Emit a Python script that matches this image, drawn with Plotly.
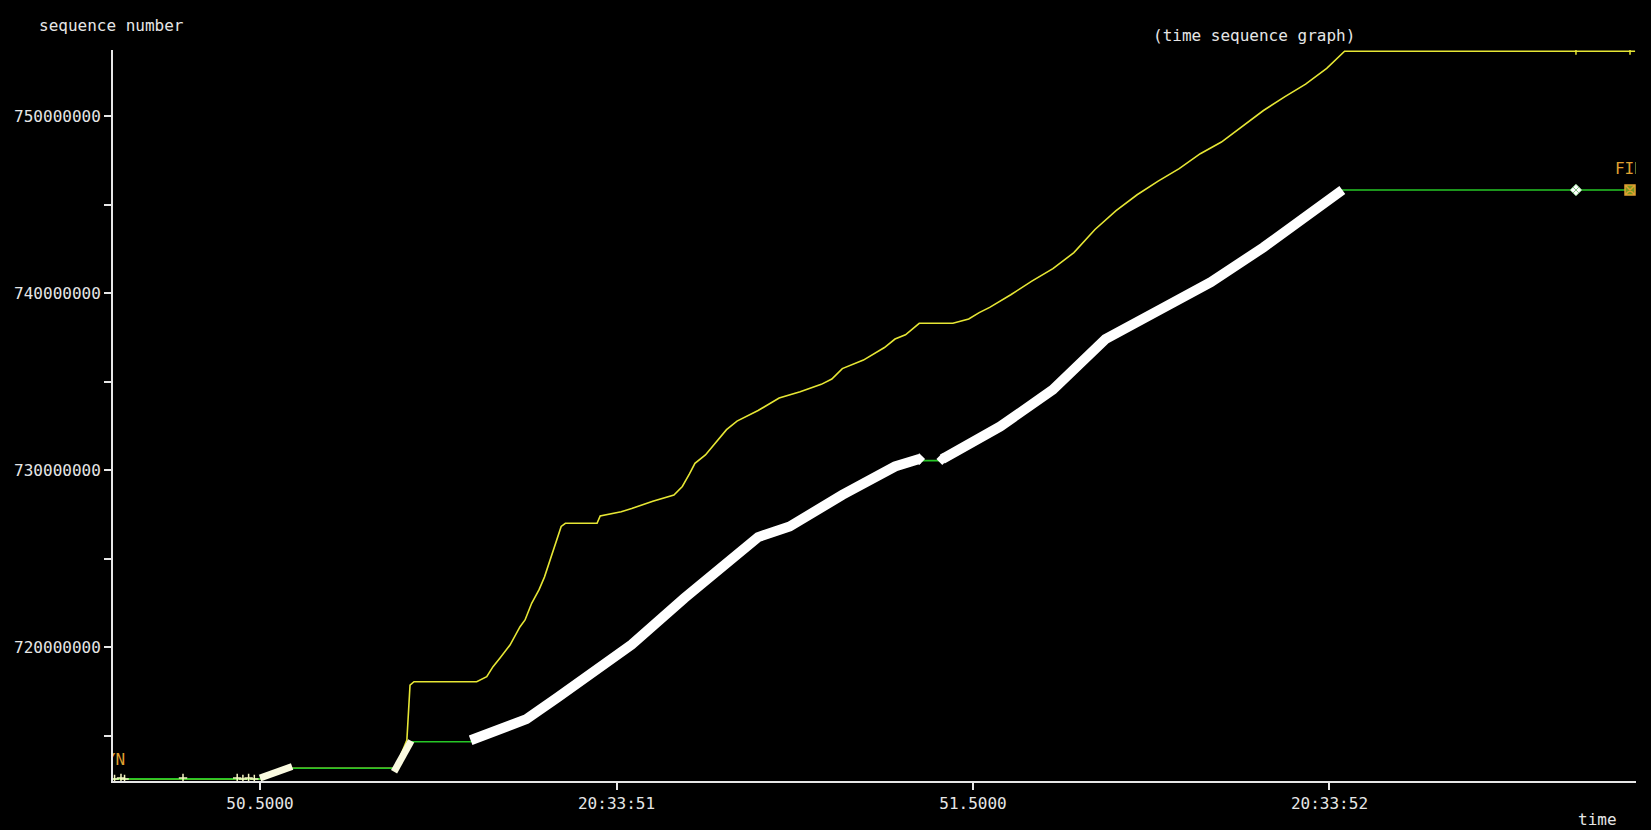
import numpy as np
import plotly.graph_objects as go

# Time is seconds past 20:33:00, sequence numbers are in millions.
SCALE = 1e6

# Advertised receive window (upper edge), yellow line
win_t = [50.2938, 50.500, 50.545, 50.690, 50.706, 50.7104, 50.716, 50.8039, 50.818,
         50.8268, 50.8366, 50.8506, 50.8647, 50.8717, 50.881, 50.8914, 50.8989,
         50.9077, 50.915, 50.9224, 50.9283, 50.9727, 50.9771, 51.0066, 51.0213,
         51.0509, 51.0805, 51.0923, 51.1025, 51.110, 51.1247, 51.1395, 51.1543,
         51.169, 51.1986, 51.2281, 51.2576, 51.2872, 51.302, 51.3167, 51.3463,
         51.3758, 51.3906, 51.4053, 51.4246, 51.4718, 51.494, 51.5087, 51.5234,
         51.553, 51.5825, 51.6121, 51.6415, 51.6711, 51.7007, 51.7302, 51.7597,
         51.7892, 51.8188, 51.8484, 51.8778, 51.9074, 51.937, 51.9665, 51.9961,
         52.0212, 52.4286]
win_seq = [712.55, 712.55, 713.15, 713.15, 714.75, 717.85, 718.04, 718.04, 718.32,
           718.89, 719.38, 720.11, 721.15, 721.53, 722.47, 723.24, 723.95,
           725.03, 725.92, 726.81, 726.99, 726.99, 727.41, 727.64, 727.82,
           728.24, 728.59, 729.07, 729.79, 730.38, 730.85, 731.57, 732.28,
           732.76, 733.36, 734.07, 734.42, 734.84, 735.14, 735.73, 736.21,
           736.92, 737.40, 737.64, 738.29, 738.29, 738.53, 738.89, 739.19,
           739.90, 740.67, 741.38, 742.28, 743.59, 744.66, 745.55, 746.32,
           747.03, 747.87, 748.53, 749.42, 750.31, 751.08, 751.80, 752.69,
           753.66, 753.66]

# Cumulative ACK line, green
ack_t = [50.2938, 50.500, 50.545, 50.690, 50.712, 50.7954, 50.8737, 50.918, 50.9623,
         51.0213, 51.0952, 51.169, 51.1986, 51.2429, 51.3167, 51.3906, 51.4246,
         51.4569, 51.5383, 51.6121, 51.6858, 51.7597, 51.8335, 51.9074, 51.9812,
         52.018, 52.4286]
ack_seq = [712.55, 712.55, 713.15, 713.15, 714.65, 714.65, 715.93, 717.17, 718.48,
           720.14, 722.76, 725.31, 726.21, 726.81, 728.59, 730.20, 730.53,
           730.53, 732.46, 734.54, 737.40, 739.00, 740.61, 742.58, 744.66,
           745.82, 745.82]

# Data segments sent in the main transfer (dense white band)
seg_t = [50.7954, 50.8737, 50.918, 50.9623, 51.0213, 51.0952, 51.169, 51.1986,
         51.2429, 51.3167, 51.3906, 51.4246, None, 51.4569, 51.5383, 51.6121,
         51.6858, 51.7597, 51.8335, 51.9074, 51.9812, 52.018]
seg_seq = [714.73, 715.93, 717.17, 718.48, 720.14, 722.76, 725.31, 726.21,
           726.81, 728.59, 730.20, 730.62, None, 730.62, 732.46, 734.54,
           737.40, 739.00, 740.61, 742.58, 744.66, 745.82]

# Two short bursts of data early in the connection
burst_t = [50.500, 50.515, 50.530, 50.545, None, 50.688, 50.696, 50.704, 50.712]
burst_seq = [712.60, 712.85, 713.05, 713.25, None, 712.95, 713.50, 714.10, 714.70]

# Isolated early segments along the base line
early_t = [50.296, 50.305, 50.310, 50.392, 50.468, 50.476, 50.484, 50.492]
early_seq = [712.55, 712.60, 712.55, 712.60, 712.60, 712.55, 712.60, 712.55]

# Trailing packets after the transfer
tail_t = [52.3457]
tail_seq = [745.82]
fin_t = [52.4215]
fin_seq = [745.82]
fin_label_t = [52.4004]
fin_label_seq = [746.95]
syn_t = [50.3107]
syn_seq = [713.56]

x_ticks = [50.5, 51.0, 51.5, 52.0]
x_labels = ["50.5000", "20:33:51", "51.5000", "20:33:52"]
y_ticks = [715, 720, 725, 730, 735, 740, 745, 750]
y_labels = ["", "720000000", "", "730000000", "", "740000000", "", "750000000"]

X_RANGE = [50.2938, 52.4299]
Y_RANGE = [712.43, 753.73]

FG = "#e6e6e6"
YELLOW = "#e6e634"
GREEN = "#26c626"
ORANGE = "#e0a030"
MONO = "DejaVu Sans Mono"
FS = 16


def s(vals):
    return [None if v is None else v * SCALE for v in vals]


fig = go.Figure()

fig.add_trace(go.Scatter(x=win_t, y=s(win_seq), mode="lines",
                         line=dict(color=YELLOW, width=1.6),
                         hoverinfo="skip"))
fig.add_trace(go.Scatter(x=ack_t, y=s(ack_seq), mode="lines",
                         line=dict(color=GREEN, width=1.6),
                         hoverinfo="skip"))
fig.add_trace(go.Scatter(x=burst_t, y=s(burst_seq), mode="lines",
                         line=dict(color="#fafae0", width=7),
                         hoverinfo="skip"))
fig.add_trace(go.Scatter(x=seg_t, y=s(seg_seq), mode="lines",
                         line=dict(color="#ffffff", width=10),
                         hoverinfo="skip"))
fig.add_trace(go.Scatter(x=[51.4246, 51.4569], y=s([730.62, 730.62]), mode="markers",
                         marker=dict(symbol="diamond", size=9, color="#ffffff"),
                         hoverinfo="skip"))
fig.add_trace(go.Scatter(x=early_t, y=s(early_seq), mode="markers",
                         marker=dict(symbol="cross-thin", size=6,
                                     line=dict(color="#f4f4c0", width=1.5)),
                         hoverinfo="skip"))
fig.add_trace(go.Scatter(x=tail_t, y=s(tail_seq), mode="markers",
                         marker=dict(symbol="diamond-x", size=9, color="#ffffff",
                                     line=dict(color="#7fbf7f", width=1)),
                         hoverinfo="skip"))
fig.add_trace(go.Scatter(x=tail_t + fin_t, y=s([753.66, 753.66]), mode="markers",
                         marker=dict(symbol="line-ns", size=5,
                                     line=dict(color=YELLOW, width=1.5)),
                         hoverinfo="skip"))
fig.add_trace(go.Scatter(x=fin_t, y=s(fin_seq), mode="markers",
                         marker=dict(symbol="square-x", size=10, color="#7a9a20",
                                     line=dict(color=ORANGE, width=1.5)),
                         hoverinfo="skip"))
fig.add_trace(go.Scatter(x=fin_label_t, y=s(fin_label_seq), mode="text", text=["FIN"],
                         textposition="middle right",
                         textfont=dict(family=MONO, size=FS, color=ORANGE),
                         cliponaxis=True, hoverinfo="skip"))
fig.add_trace(go.Scatter(x=syn_t, y=s(syn_seq), mode="text", text=["SYN"],
                         textposition="middle left",
                         textfont=dict(family=MONO, size=FS, color=ORANGE),
                         cliponaxis=True, hoverinfo="skip"))

axis_common = dict(showgrid=False, zeroline=False, showline=True, linecolor=FG,
                   linewidth=2, ticks="outside", ticklen=7, tickwidth=1.5,
                   tickcolor=FG, tickfont=dict(family=MONO, size=FS, color=FG))

fig.update_layout(
    width=1651, height=830,
    margin=dict(l=113, r=15, t=50, b=49),
    paper_bgcolor="#000000", plot_bgcolor="#000000",
    showlegend=False,
    xaxis=dict(range=X_RANGE, tickvals=x_ticks, ticktext=x_labels, **axis_common),
    yaxis=dict(range=[v * SCALE for v in Y_RANGE], tickvals=s(y_ticks),
               ticktext=y_labels, **axis_common),
)

PLOT_L, PLOT_R, PLOT_T, PLOT_B = 113, 1636, 50, 781


def px(xp, yp):
    return (xp - PLOT_L) / (PLOT_R - PLOT_L), (PLOT_B - yp) / (PLOT_B - PLOT_T)


for text, (xp, yp) in [
    ("sequence number", (37, 26)),
    ("(time sequence graph)", (1151, 35)),
    ("time", (1576, 819)),
]:
    ax, ay = px(xp, yp)
    fig.add_annotation(x=ax, y=ay, xref="paper", yref="paper", text=text,
                       showarrow=False, xanchor="left", yanchor="middle",
                       font=dict(family=MONO, size=FS, color=FG))

fig.write_html("out.html")
